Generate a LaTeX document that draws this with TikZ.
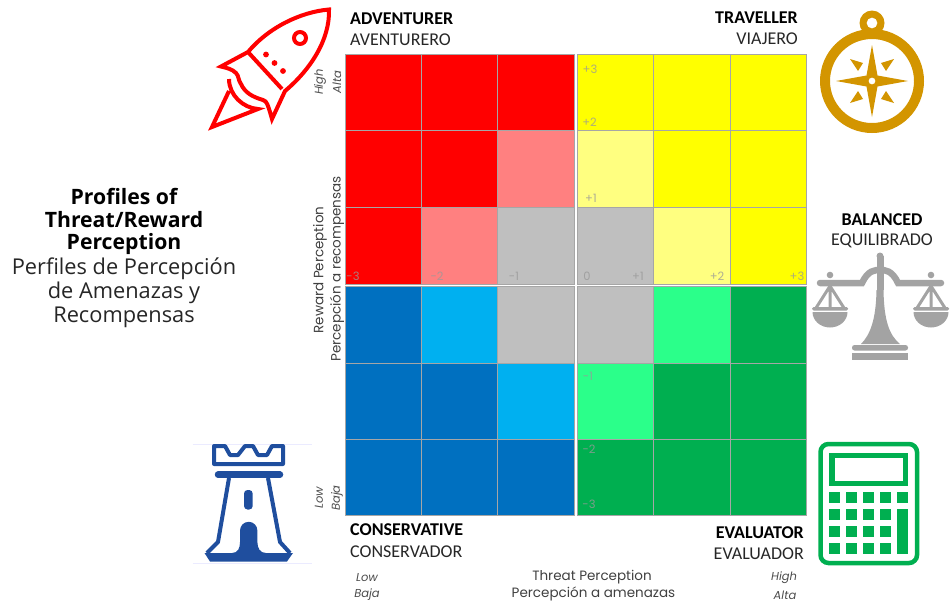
\documentclass[tikz,border=0pt]{standalone}
\usepackage{fontspec}
\setmainfont{Open Sans}
\newfontfamily\carl{Carlito}
\newfontfamily\axisf{Poppins}
\definecolor{rd}{HTML}{FF0000}\definecolor{rdl}{HTML}{FF8080}
\definecolor{ye}{HTML}{FFFF00}\definecolor{yel}{HTML}{FFFF80}
\definecolor{gy}{HTML}{BFBFBF}\definecolor{bl}{HTML}{0070C0}
\definecolor{bll}{HTML}{00B0F0}\definecolor{gr}{HTML}{00AF50}
\definecolor{grl}{HTML}{2BFF8A}\definecolor{gold}{HTML}{D39500}
\definecolor{twr}{HTML}{1F4E9E}\definecolor{scl}{HTML}{A3A3A3}
\definecolor{cellline}{HTML}{A6A6A6}\definecolor{numc}{HTML}{999999}
\tikzset{
 cell/.style={draw=cellline,line width=0.8pt,inner sep=0,outer sep=0,anchor=north west},
 prof/.style={font=\carl\fontsize{18}{20}\selectfont,text=black!85,inner sep=0},
 profb/.style={font=\carl\bfseries\fontsize{18}{20}\selectfont,text=black,inner sep=0},
 ttl/.style={font=\fontsize{21.8}{24}\selectfont,text=black!85,inner sep=0},
 ttlb/.style={font=\bfseries\fontsize{21.2}{24}\selectfont,text=black,inner sep=0},
 ax/.style={font=\axisf\fontsize{13.5}{15}\selectfont,text=black!75,inner sep=0},
 axi/.style={font=\axisf\itshape\fontsize{11.5}{12}\selectfont,text=black!70,inner sep=0},
 num/.style={font=\axisf\fontsize{11.5}{12}\selectfont,text=numc,opacity=.8,inner sep=0},
}
\begin{document}
\begin{tikzpicture}[x=1pt,y=-1pt]
\useasboundingbox (0,0) rectangle (950,606);
% cells
\foreach \r/\ya/\h/\ca/\cb/\cc/\cd/\ce/\cf in {
 a/54/76.7/rd/rd/rd/ye/ye/ye,
 b/130.7/76.6/rd/rd/rdl/yel/ye/ye,
 c/207.3/76.7/rd/rdl/gy/gy/yel/ye,
 d/286.6/76.7/bl/bll/gy/gy/grl/gr,
 e/363.3/76.2/bl/bl/bll/grl/gr/gr,
 f/439.5/76.2/bl/bl/bl/gr/gr/gr}{
 \node[cell,fill=\ca,minimum width=76pt,minimum height=\h pt] (\r1) at (345,\ya) {};
 \node[cell,fill=\cb,minimum width=76.5pt,minimum height=\h pt] (\r2) at (421,\ya) {};
 \node[cell,fill=\cc,minimum width=76.5pt,minimum height=\h pt] (\r3) at (497.5,\ya) {};
 \node[cell,fill=\cd,minimum width=76pt,minimum height=\h pt] (\r4) at (577.5,\ya) {};
 \node[cell,fill=\ce,minimum width=76.5pt,minimum height=\h pt] (\r5) at (653.5,\ya) {};
 \node[cell,fill=\cf,minimum width=76.5pt,minimum height=\h pt] (\r6) at (730,\ya) {};
}
% numbers
\foreach \n/\xa/\ya/\t in {n1/353/276/-3,n2/437/276/-2,n3/514/276/-1,n4/587/276/0,n5/638/276/+1,n6/717/276/+2,n7/797/276/+3,
 n8/590/69/+3,n9/589.5/122/+2,n10/591/198/+1,n11/588/376/-1,n12/589/449/-2,n13/589/504/-3}
 {\node[num] (\n) at (\xa,\ya) {\t};}
% quadrant labels
\node[profb,anchor=west] (adv) at (350,19) {ADVENTURER};
\node[prof,anchor=west] (ave) at (350,40) {AVENTURERO};
\node[profb,anchor=east] (tra) at (798,18) {TRAVELLER};
\node[prof,anchor=east] (via) at (798,39) {VIAJERO};
\node[profb] (bal) at (882,220) {BALANCED};
\node[prof] (equ) at (882,241) {EQUILIBRADO};
\node[profb,anchor=west] (con) at (350,530) {CONSERVATIVE};
\node[prof,anchor=west] (cons) at (350,552) {CONSERVADOR};
\node[profb,anchor=east] (eva) at (804,533) {EVALUATOR};
\node[prof,anchor=east] (evo) at (804,554) {EVALUADOR};
% title
\node[ttlb] (t1) at (124,196) {Profiles of};
\node[ttlb] (t2) at (124,220) {Threat/Reward};
\node[ttlb] (t3) at (124,244) {Perception};
\node[ttl] (t4) at (124,269) {Perfiles de Percepción};
\node[ttl] (t5) at (124,293) {de Amenazas y};
\node[ttl] (t6) at (124,317) {Recompensas};
% axes
\node[ax,rotate=90] (ar1) at (320,270) {Reward Perception};
\node[ax,rotate=90] (ar2) at (337,269) {Percepción a recompensas};
\node[ax] (at1) at (592,577) {Threat Perception};
\node[ax] (at2) at (593.5,594) {Percepción a amenazas};
\node[axi,rotate=90] (h1) at (320,82) {High};
\node[axi,rotate=90] (h2) at (337,82) {Alta};
\node[axi,rotate=90] (l1) at (319,498) {Low};
\node[axi,rotate=90] (l2) at (337,498) {Baja};
\node[axi] (x1) at (367,578) {Low};
\node[axi] (x2) at (367,595) {Baja};
\node[axi] (x3) at (784,578) {High};
\node[axi] (x4) at (785,595) {Alta};
% rocket
\begin{scope}[draw=rd,line width=4pt,line join=miter]
 \draw (329,9.5) .. controls (300,12) and (268,28) .. (248,52)
   -- (221,66.5) .. controls (227,68) and (232,69) .. (236,73)
   .. controls (239,76) and (238,80) .. (241,84)
   .. controls (245,93) and (253,97) .. (263,100)
   .. controls (267,101) and (268,106) .. (270,112) -- (272,119) -- (285,91)
   .. controls (310,70) and (330,40) .. (329,9.5) -- cycle;
 \draw (248,52) -- (282,89);
 \draw (300,38) circle (6);
 \draw (229,79) .. controls (229,95) and (243,108) .. (258,109) -- (212,127) -- (229,91);
\end{scope}
\fill[rd] (266,54.5) circle (2.9) (274.5,63) circle (2.9) (283,71) circle (2.9);
% compass
\begin{scope}[even odd rule]
 \fill[gold] (872,81) circle (52) (872,81) circle (42);
 \fill[gold] (872,23) circle (12.5) (872,23) circle (5.5);
 \fill[gold] (872,45) -- (877.5,75.5) -- (908,81) -- (877.5,86.5) -- (872,117) -- (866.5,86.5) -- (836,81) -- (866.5,75.5) -- cycle (872,81) circle (3.5);
 \foreach \a/\b in {-1/-1,1/-1,-1/1,1/1}
  \fill[gold] (872+\a*22,81+\b*22) -- (872+\a*9,81+\b*18) -- (872+\a*14,81+\b*10) -- cycle;
\end{scope}
% scale
\begin{scope}
 \fill[scl] (880,256) circle (3.5);
 \fill[scl] (876.5,256) rectangle (883.5,290);
 \fill[scl] (876.5,290) .. controls (876,320) and (870,335) .. (861,344) -- (900,344) .. controls (889,335) and (884,320) .. (883.5,290) -- cycle;
 \fill[scl,rounded corners=2.5pt] (852,345) rectangle (908,350.5);
 \fill[scl] (852,352.5) rectangle (908,360);
 \draw[scl,line width=6.5pt,line cap=round] (820,283) -- (862,283) .. controls (868,270) and (875,270) .. (880,270) .. controls (885,270) and (892,270) .. (898,283) -- (941,283);
 \foreach \c in {830,931}{
  \fill[scl] (\c,275) circle (3.3);
  \draw[scl,line width=3pt] (\c,286) -- (\c-14,308) (\c,286) -- (\c+14,308) (\c,286) -- (\c,308);
  \fill[scl,rounded corners=1.5pt] (\c-18,307) rectangle (\c+18,310.5);
  \fill[scl] (\c-17.5,312) arc (180:360:17.5 and -15.5) -- cycle;
 }
\end{scope}
% calculator
\draw[gr,line width=4.5pt,rounded corners=8pt] (820.5,444) rectangle (917,563);
\draw[gr,line width=5.5pt] (832,455.3) rectangle (905.3,483.3);
\foreach \xa in {829.3,846.3,863.3,880.3}
 \foreach \ya in {492,509,526,542.7}
  \fill[gr] (\xa,\ya) rectangle +(11,11);
\fill[gr] (897.3,492) rectangle +(11,11);
\fill[gr] (897.3,509) rectangle (908.3,554);
% tower
\draw[blue!8,line width=0.8pt] (192.7,444) -- (311.7,444) (192.7,563.3) -- (311.7,563.3);
\begin{scope}[draw=twr,fill=twr]
 \draw[line width=4pt,line join=round] (214,446) -- (225,446) -- (230,455) -- (238,455) -- (245,446) -- (253,446) -- (258,455) -- (267,455) -- (272,446) -- (283,446) -- (283,464) -- (214,464) -- cycle;
 \draw[line width=6.5pt,line cap=round] (218,474.7) -- (280,474.7);
 \draw[line width=4pt,line join=round] (229,478) -- (218,542) -- (207,553);
 \draw[line width=4pt,line join=round] (268,478) -- (280,542) -- (290,553);
 \fill (204.5,553) -- (232,553) .. controls (238,553) and (240,548) .. (240,542) -- (240,530.5) arc (180:360:8.7) -- (257.4,542) .. controls (257.4,548) and (260,553) .. (266,553) -- (293,553) -- (287,561.5) -- (210,561.5) -- cycle;
 \fill[rounded corners=3.5pt] (244,490) rectangle (252.7,509.5);
\end{scope}
\end{tikzpicture}
\end{document}
